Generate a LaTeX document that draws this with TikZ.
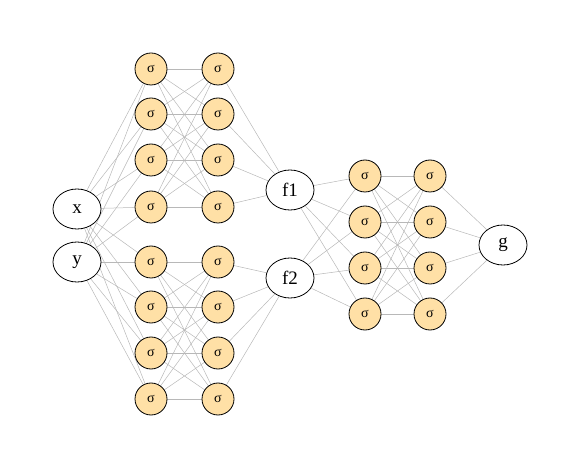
\documentclass[tikz,border=0pt]{standalone}
\usepackage{fontspec}
\setmainfont{Liberation Serif}
\usetikzlibrary{shapes.geometric,backgrounds}
\definecolor{sigfill}{HTML}{FFE0A6}
\definecolor{edgegray}{HTML}{B8B8B8}
\begin{document}
\begin{tikzpicture}[x=1pt,y=-1pt,
  sig/.style={circle,draw=black,line width=0.8pt,fill=sigfill,minimum size=32pt,inner sep=0pt,font=\fontsize{14}{14}\selectfont},
  var/.style={ellipse,draw=black,line width=0.8pt,fill=white,minimum width=48pt,minimum height=40pt,inner sep=0pt,font=\fontsize{19}{19}\selectfont},
  edge/.style={draw=edgegray,line width=0.5pt}]
\useasboundingbox (0,0) rectangle (581,470);
% inputs
\node[var] (x) at (77,209) {x};
\node[var] (y) at (77,262) {y};
% block A (top)
\foreach \i/\yy in {1/69,2/114,3/160,4/207}{
  \node[sig] (a\i) at (151,\yy) {σ};
  \node[sig] (b\i) at (218,\yy) {σ};
}
% block B (bottom)
\foreach \i/\yy in {1/262,2/307,3/353,4/399}{
  \node[sig] (c\i) at (151,\yy) {σ};
  \node[sig] (d\i) at (218,\yy) {σ};
}
\node[var] (f1) at (290,190) {f1};
\node[var] (f2) at (290,278) {f2};
% block C
\foreach \i/\yy in {1/176,2/222,3/268,4/314}{
  \node[sig] (e\i) at (365,\yy) {σ};
  \node[sig] (h\i) at (430,\yy) {σ};
}
\node[var] (g) at (503,245) {g};
% edges
\begin{scope}[on background layer]
\foreach \s in {x,y}{
  \foreach \i in {1,2,3,4}{
    \draw[edge] (\s) -- (a\i);
    \draw[edge] (\s) -- (c\i);
  }
}
\foreach \i in {1,2,3,4}{
  \foreach \j in {1,2,3,4}{
    \draw[edge] (a\i) -- (b\j);
    \draw[edge] (c\i) -- (d\j);
    \draw[edge] (e\i) -- (h\j);
  }
  \draw[edge] (b\i) -- (f1);
  \draw[edge] (d\i) -- (f2);
  \draw[edge] (f1) -- (e\i);
  \draw[edge] (f2) -- (e\i);
  \draw[edge] (h\i) -- (g);
}
\end{scope}
\end{tikzpicture}
\end{document}
